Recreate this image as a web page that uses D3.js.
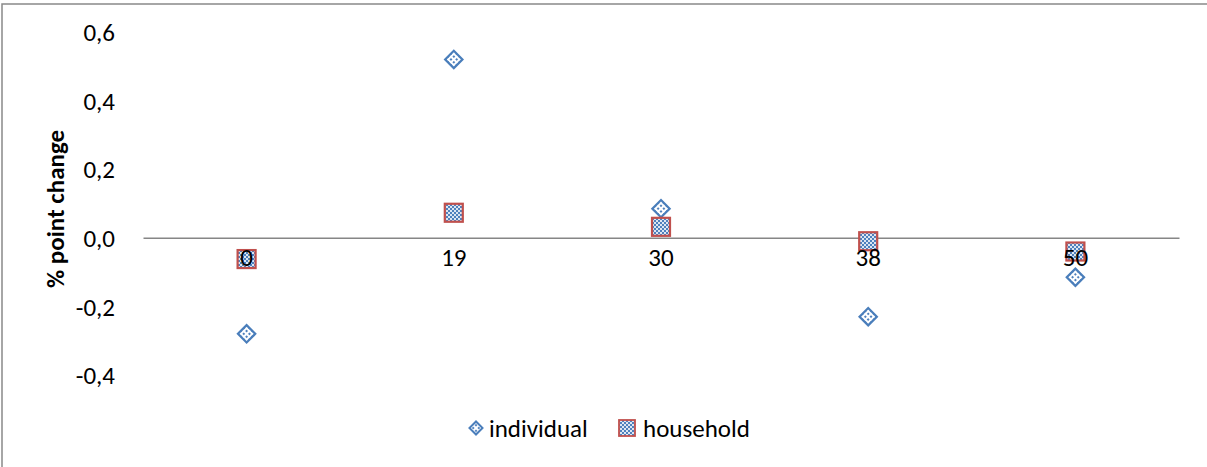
<!DOCTYPE html>
<html>
<head>
<meta charset="utf-8">
<script src="https://cdn.jsdelivr.net/npm/d3@7"></script>
<style>
  html, body { margin: 0; padding: 0; background: #fff; }
  svg text { font-family: Carlito, Calibri, Lato, "Open Sans", sans-serif; fill: #000; }
</style>
</head>
<body>
<svg id="chart" width="1207" height="467"></svg>
<script>
// Category labels along the horizontal axis
const categories = ["0", "19", "30", "38", "50"];
// Percentage point change per category
const individual = [-0.28, 0.52, 0.085, -0.23, -0.115];
const household = [-0.062, 0.073, 0.032, -0.01, -0.04];
// Value axis tick labels
const yTicks = [-0.4, -0.2, 0.0, 0.2, 0.4, 0.6];
const seriesNames = ["individual", "household"];

const svg = d3.select("#chart");
const W = 1207, H = 467;
const FONT = "Carlito, Calibri, Lato, sans-serif";
const FS = 25;

// Outer chart frame
svg.append("rect")
  .attr("x", 2).attr("y", 4).attr("width", W + 10).attr("height", H + 10)
  .attr("fill", "#fff").attr("stroke", "#898989").attr("stroke-width", 1.5);

// Fill patterns for the markers
const defs = svg.append("defs");
const dots = defs.append("pattern")
  .attr("id", "dots").attr("patternUnits", "userSpaceOnUse")
  .attr("width", 4).attr("height", 4);
dots.append("rect").attr("width", 4).attr("height", 4).attr("fill", "#fff");
dots.append("rect").attr("x", 1).attr("y", 1).attr("width", 2).attr("height", 2).attr("fill", "#4f81bd");

const checks = defs.append("pattern")
  .attr("id", "checks").attr("patternUnits", "userSpaceOnUse")
  .attr("width", 4).attr("height", 4);
checks.append("rect").attr("width", 4).attr("height", 4).attr("fill", "#4f81bd");
checks.append("rect").attr("x", 0).attr("y", 0).attr("width", 2).attr("height", 2).attr("fill", "#dce6f2");
checks.append("rect").attr("x", 2).attr("y", 2).attr("width", 2).attr("height", 2).attr("fill", "#dce6f2");

const x = d3.scaleBand().domain(categories).range([143, 1179]);
const y = d3.scaleLinear().domain([-0.4, 0.6]).range([375, 32]);
const cx = c => x(c) + x.bandwidth() / 2;

const fmt = v => d3.format(".1f")(v).replace(".", ",").replace("−", "-");

// Value axis labels (no axis line)
const yAxis = d3.axisLeft(y).tickValues(yTicks).tickFormat(fmt).tickSize(0).tickPadding(0);
const gy = svg.append("g").attr("transform", "translate(115,0)").call(yAxis);
gy.select(".domain").remove();
gy.selectAll("text").attr("font-size", FS).attr("dy", "0.35em").style("font-family", FONT);

// Category axis line through zero
const xAxis = d3.axisBottom(x).tickSize(0).tickPadding(10);
const gx = svg.append("g").attr("transform", `translate(0,${y(0)})`).call(xAxis);
gx.select(".domain").attr("stroke", "#868686").attr("stroke-width", 1.5);
gx.selectAll(".tick").remove();

// Axis title
svg.append("text")
  .attr("transform", "translate(64,209) rotate(-90)")
  .attr("text-anchor", "middle")
  .attr("font-size", FS).attr("font-weight", "bold")
  .style("font-family", FONT)
  .text("% point change");

const diamond = d3.symbol().type(d3.symbolSquare).size(150);

// Individual series: diamonds
svg.append("g").selectAll("path").data(individual).join("path")
  .attr("d", diamond())
  .attr("transform", (d, i) => `translate(${cx(categories[i])},${y(d)}) rotate(45)`)
  .attr("fill", "url(#dots)").attr("stroke", "#4a7ebb").attr("stroke-width", 2.2);

// Household series: squares
const sq = 18;
svg.append("g").selectAll("rect").data(household).join("rect")
  .attr("x", (d, i) => cx(categories[i]) - sq / 2)
  .attr("y", d => y(d) - sq / 2)
  .attr("width", sq).attr("height", sq)
  .attr("fill", "url(#checks)").attr("stroke", "#c0504d").attr("stroke-width", 2.2);

// Category labels drawn above the markers
const gxl = svg.append("g").attr("transform", `translate(0,${y(0)})`)
  .call(d3.axisBottom(x).tickSize(0).tickPadding(10));
gxl.select(".domain").remove();
gxl.selectAll("text").attr("font-size", FS).style("font-family", FONT);

// Legend
const leg = svg.append("g").attr("transform", "translate(0,428)");
leg.append("path").attr("d", d3.symbol().type(d3.symbolSquare).size(85)())
  .attr("transform", "translate(476,0) rotate(45)")
  .attr("fill", "url(#dots)").attr("stroke", "#4a7ebb").attr("stroke-width", 2);
leg.append("text").attr("x", 489).attr("y", 0).attr("dy", "0.35em")
  .attr("font-size", FS).style("font-family", FONT).text(seriesNames[0]);
leg.append("rect").attr("x", 619).attr("y", -8).attr("width", 16).attr("height", 16)
  .attr("fill", "url(#checks)").attr("stroke", "#c0504d").attr("stroke-width", 1.8);
leg.append("text").attr("x", 643).attr("y", 0).attr("dy", "0.35em")
  .attr("font-size", FS).style("font-family", FONT).text(seriesNames[1]);
</script>
</body>
</html>
